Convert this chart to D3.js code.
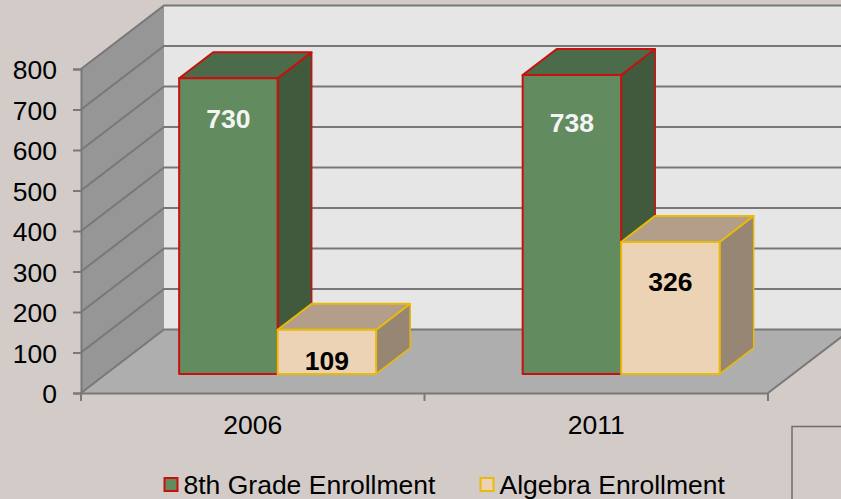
<!doctype html>
<html lang="en">
<head>
    <meta charset="UTF-8">
    <title>Enrollment</title>
    <script type="text/javascript" src="https://cdn.jsdelivr.net/npm/d3@7/dist/d3.min.js"></script>
    <style type="text/css">
        html, body { margin: 0; padding: 0; background: #d2cbc8; overflow: hidden; }
        svg { display: block; }
        text { font-family: "Liberation Sans", Arial, sans-serif; }
    </style>
</head>
<body>
<script type="text/javascript">
    var years = ["2006", "2011"];
    var series_names = ["8th Grade Enrollment", "Algebra Enrollment"];
    var grade8_values = [730, 738];
    var algebra_values = [109, 326];
    var y_ticks = [0, 100, 200, 300, 400, 500, 600, 700, 800];

    var w = 841;
    var h = 499;
    var grid_color = "#787878";
    var font_size = "26.5px";

    var series = [
        {values: grade8_values, front: "#628c60", top: "#4c6b4a", side: "#41593d", line: "#c8100c", text: "#f4f4f4"},
        {values: algebra_values, front: "#edd3b5", top: "#b39e8a", side: "#968673", line: "#e8ba0a", text: "#000"}
    ];

    // front plane of the box, depth goes up and to the right
    var x_scale = d3.scaleBand().domain(years).range([81, 768]);
    var y_scale = d3.scaleLinear().domain([0, 800]).range([393, 69]);
    var dx = d3.scaleLinear().domain([0, 1]).range([0, 83]);
    var dy = d3.scaleLinear().domain([0, 1]).range([0, -63.5]);
    var bar_scale = d3.scaleBand().domain([0, 1]).range([-98.5, 98.5]);
    var bar_near = 0.3;
    var bar_far = 0.71;

    var svg = d3.select("body").append("svg").attr("width", w).attr("height", h);

    function pt(x, v, depth) {
        return [x + dx(depth), y_scale(v) + dy(depth)];
    }

    function poly(points, fill, stroke, sw) {
        return svg.append("polygon")
            .attr("points", points.map(function (p) { return p.join(","); }).join(" "))
            .attr("fill", fill)
            .attr("stroke", stroke)
            .attr("stroke-width", sw)
            .attr("stroke-linejoin", "round");
    }

    var x0 = x_scale.range()[0];
    var x1 = x_scale.range()[1];

    // walls and floor
    poly([pt(x0, 0, 1), pt(x1, 0, 1), pt(x1, 800, 1), pt(x0, 800, 1)], "#e6e6e6", "none", 0);
    poly([pt(x0, 0, 0), pt(x0, 0, 1), pt(x0, 800, 1), pt(x0, 800, 0)], "#969696", "none", 0);
    poly([pt(x0, 0, 0), pt(x1, 0, 0), pt(x1, 0, 1), pt(x0, 0, 1)], "#aeaeae", "none", 0);

    svg.selectAll("path.grid")
        .data(y_ticks)
        .enter()
        .append("path")
        .attr("class", "grid")
        .attr("fill", "none")
        .attr("stroke", grid_color)
        .attr("stroke-width", 2)
        .attr("d", function (d) {
            return d3.line()([pt(x0, d, 0), pt(x0, d, 1), pt(x1, d, 1)]);
        });

    svg.append("path")
        .attr("fill", "none")
        .attr("stroke", grid_color)
        .attr("stroke-width", 2)
        .attr("d", d3.line()([pt(x1, 0, 0), pt(x1, 0, 1)]));

    // bars
    years.forEach(function (year, i) {
        series.forEach(function (s, k) {
            var v = s.values[i];
            var xa = x_scale(year) + x_scale.bandwidth() / 2 + bar_scale(k);
            var xb = xa + bar_scale.bandwidth();
            poly([pt(xb, 0, bar_near), pt(xb, 0, bar_far), pt(xb, v, bar_far), pt(xb, v, bar_near)], s.side, s.line, 1.5);
            poly([pt(xa, v, bar_near), pt(xb, v, bar_near), pt(xb, v, bar_far), pt(xa, v, bar_far)], s.top, s.line, 2);
            poly([pt(xa, 0, bar_near), pt(xb, 0, bar_near), pt(xb, v, bar_near), pt(xa, v, bar_near)], s.front, s.line, 2);
        });
    });

    // value labels, hand placed under the top edge of each bar
    var label_drop = [[50, 57], [40, 49]];
    years.forEach(function (year, i) {
        series.forEach(function (s, k) {
            var v = s.values[i];
            var xa = x_scale(year) + x_scale.bandwidth() / 2 + bar_scale(k);
            var p = pt(xa + bar_scale.bandwidth() / 2, v, bar_near);
            svg.append("text")
                .attr("x", p[0])
                .attr("y", p[1] + label_drop[k][i])
                .attr("text-anchor", "middle")
                .attr("font-size", font_size)
                .attr("font-weight", "bold")
                .attr("fill", s.text)
                .text(v);
        });
    });

    // axes
    var y_axis = d3.axisLeft(y_scale).tickValues(y_ticks).tickSize(8).tickPadding(16).tickFormat(d3.format("d"));
    var g_y = svg.append("g").attr("transform", "translate(" + x0 + ",0)").call(y_axis);
    var x_axis = d3.axisBottom(x_scale).tickSize(0).tickPadding(22);
    var g_x = svg.append("g").attr("transform", "translate(0," + y_scale(0) + ")").call(x_axis);

    [g_y, g_x].forEach(function (g) {
        g.selectAll("text").attr("font-size", font_size).attr("font-family", null).attr("fill", "#000");
        g.selectAll("line").attr("stroke", grid_color).attr("stroke-width", 2);
        g.select(".domain").attr("stroke", grid_color).attr("stroke-width", 2);
    });
    g_y.selectAll("text").attr("dy", "0.36em");

    svg.selectAll("line.xtick")
        .data(d3.range(years.length + 1))
        .enter()
        .append("line")
        .attr("class", "xtick")
        .attr("x1", function (d) { return x0 + d * x_scale.bandwidth(); })
        .attr("x2", function (d) { return x0 + d * x_scale.bandwidth(); })
        .attr("y1", y_scale(0))
        .attr("y2", y_scale(0) + 8)
        .attr("stroke", grid_color)
        .attr("stroke-width", 2);

    // legend
    var legend_x = [164.5, 480.5];
    series_names.forEach(function (name, k) {
        var g = svg.append("g").attr("transform", "translate(" + legend_x[k] + ",478)");
        g.append("rect")
            .attr("width", 13).attr("height", 13)
            .attr("fill", series[k].front)
            .attr("stroke", series[k].line)
            .attr("stroke-width", 2);
        g.append("text")
            .attr("x", 19).attr("y", 16)
            .attr("font-size", font_size)
            .attr("fill", "#000")
            .text(name);
    });

    // stray frame in the corner
    svg.append("path")
        .attr("fill", "none")
        .attr("stroke", "#6e6e6e")
        .attr("stroke-width", 1.5)
        .attr("d", d3.line()([[792, h], [792, 426.5], [w, 426.5]]));
</script>
</body>
</html>
